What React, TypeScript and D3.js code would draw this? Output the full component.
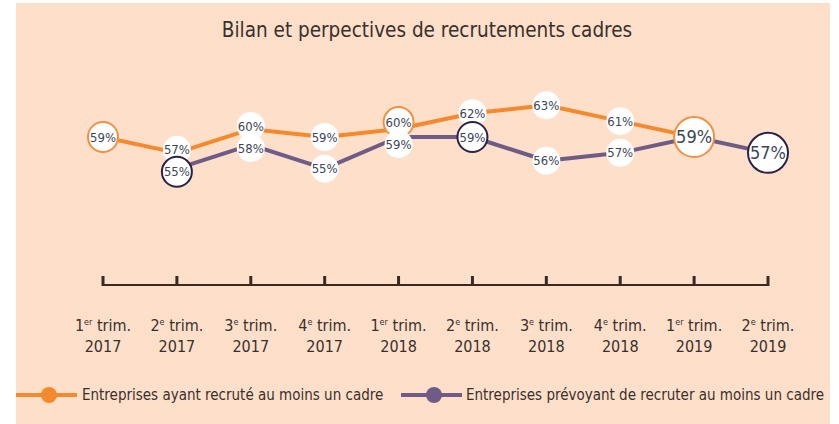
import React from "react";
import * as d3 from "d3";

const title = "Bilan et perpectives de recrutements cadres";
const quarterNums = ["1", "2", "3", "4", "1", "2", "3", "4", "1", "2"];
const quarterSuffixes = ["er", "e", "e", "e", "er", "e", "e", "e", "er", "e"];
const years = ["2017", "2017", "2017", "2017", "2018", "2018", "2018", "2018", "2019", "2019"];
const recruited: (number | null)[] = [59, 57, 60, 59, 60, 62, 63, 61, 59, null];
const planned: (number | null)[] = [null, 55, 58, 55, 59, 59, 56, 57, 59, 57];
const seriesNames = [
  "Entreprises ayant recruté au moins un cadre",
  "Entreprises prévoyant de recruter au moins un cadre",
];

const W = 839;
const H = 424;
const FONT = "'Liberation Sans Narrow', 'DejaVu Sans Condensed', 'DejaVu Sans', sans-serif";
const ORANGE = "#F5892E";
const PURPLE = "#6E5C86";
const ORANGE_RING = "#EE9142";
const NAVY_RING = "#2A2248";
const LABEL_COLOR = "#3C4658";
const TEXT_COLOR = "#3A302B";

export default function App() {
  const idx = d3.range(quarterNums.length);
  const x = d3.scalePoint<number>().domain(idx).range([103, 768]);
  const y = d3.scaleLinear().domain([55, 63]).range([168.7, 105.3]);

  const series = [
    { values: recruited, color: ORANGE, ring: ORANGE_RING },
    { values: planned, color: PURPLE, ring: NAVY_RING },
  ];

  const line = d3
    .line<{ i: number; v: number | null }>()
    .defined((d) => d.v !== null)
    .x((d) => x(d.i)!)
    .y((d) => y(d.v as number));

  const labels: { cx: number; cy: number; text: string; ring: string | null; r: number; fs: number }[][] = [[], []];
  idx.forEach((i) => {
    const a = recruited[i];
    const b = planned[i];
    let ya = a !== null ? y(a) : 0;
    let yb = b !== null ? y(b) : 0;
    const showB = !(a !== null && b !== null && a === b);
    if (a !== null && b !== null && showB && Math.abs(yb - ya) < 22) {
      const mid = (ya + yb) / 2;
      ya = mid - 11;
      yb = mid + 11;
    }
    const vals = [a, b];
    const ys = [ya, yb];
    [0, 1].forEach((s) => {
      const v = vals[s];
      if (v === null) return;
      if (s === 1 && !showB) return;
      const values = series[s].values;
      const first = values.findIndex((d) => d !== null);
      let last = -1;
      values.forEach((d, k) => {
        if (d !== null) last = k;
      });
      const isLast = i === last;
      const ringed = (i - first) % 4 === 0 || isLast;
      labels[s].push({
        cx: x(i)!,
        cy: ys[s],
        text: `${v}%`,
        ring: ringed ? series[s].ring : null,
        r: isLast ? 20 : ringed ? 15 : 14,
        fs: isLast ? 18 : 13,
      });
    });
  });

  const axisY = 285;

  return (
    <svg
      width={W}
      height={H}
      style={{ position: "absolute", left: 0, top: 0, background: "#fff" }}
      fontFamily={FONT}
    >
      <rect x={16} y={3} width={814} height={421} fill="#FEDFCA" />
      <text x={427} y={37} textAnchor="middle" fontSize={20.5} fill={TEXT_COLOR}>
        {title}
      </text>

      <line x1={x(0)} x2={x(idx.length - 1)} y1={axisY} y2={axisY} stroke="#3A2A22" strokeWidth={2} />
      {idx.map((i) => (
        <line
          key={i}
          x1={x(i)}
          x2={x(i)}
          y1={axisY + 1}
          y2={axisY - 9}
          stroke="#3A2A22"
          strokeWidth={3}
        />
      ))}
      {idx.map((i) => (
        <g key={i} fill={TEXT_COLOR}>
          <text x={x(i)} y={331} textAnchor="middle" fontSize={16}>
            {quarterNums[i]}
            <tspan fontSize={9} dy={-6}>
              {quarterSuffixes[i]}
            </tspan>
            <tspan dy={6}> trim.</tspan>
          </text>
          <text x={x(i)} y={352} textAnchor="middle" fontSize={16}>
            {years[i]}
          </text>
        </g>
      ))}

      {series.map((s, k) => (
        <path
          key={k}
          d={line(s.values.map((v, i) => ({ i, v })))!}
          fill="none"
          stroke={s.color}
          strokeWidth={4}
          strokeLinejoin="round"
        />
      ))}

      {labels.map((arr, s) =>
        arr.map((l, j) => (
          <g key={`${s}-${j}`}>
            <circle
              cx={l.cx}
              cy={l.cy}
              r={l.r}
              fill="#fff"
              stroke={l.ring ?? "none"}
              strokeWidth={l.ring ? 2 : 0}
            />
            <text
              x={l.cx}
              y={l.cy}
              dy="0.35em"
              textAnchor="middle"
              fontSize={l.fs}
              fill={LABEL_COLOR}
            >
              {l.text}
            </text>
          </g>
        ))
      )}

      {[
        { x0: 16, color: ORANGE, tx: 82 },
        { x0: 401, color: PURPLE, tx: 466 },
      ].map((lg, k) => (
        <g key={k}>
          <line x1={lg.x0} x2={lg.x0 + 61} y1={395} y2={395} stroke={lg.color} strokeWidth={4} />
          <circle cx={lg.x0 + 33} cy={395} r={8} fill={lg.color} />
          <text x={lg.tx} y={400} fontSize={15} fill={TEXT_COLOR}>
            {seriesNames[k]}
          </text>
        </g>
      ))}
    </svg>
  );
}
